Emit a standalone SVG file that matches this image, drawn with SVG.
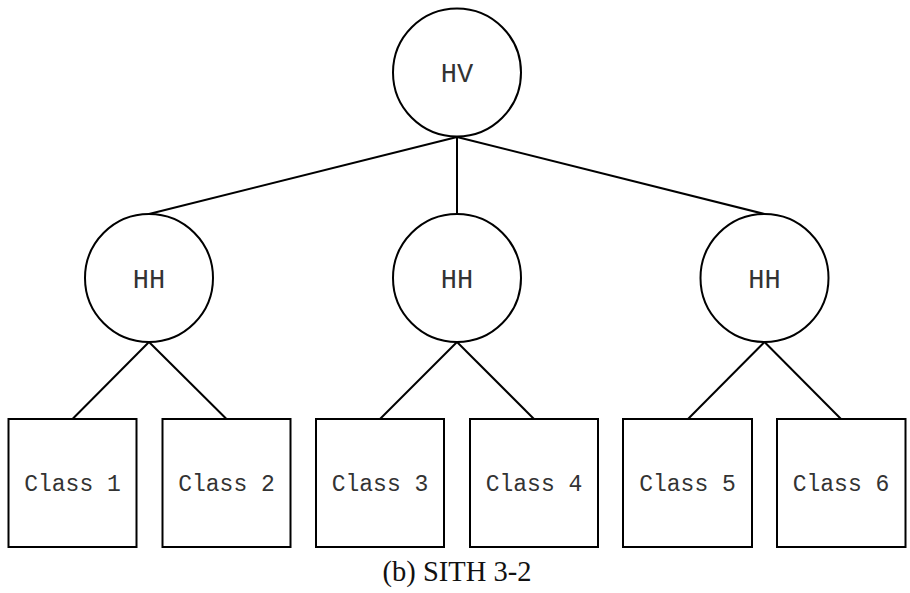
<svg xmlns="http://www.w3.org/2000/svg" width="910" height="593" viewBox="0 0 910 593">
<style>
.n{fill:#fff;stroke:#000;stroke-width:2}
.e{stroke:#000;stroke-width:2;fill:none}
.t{font-family:"Liberation Mono","Courier New",monospace;fill:#333;text-anchor:middle}
.c{font-size:23px}
.h{font-size:27px}
.cap{font-family:"Liberation Serif","Times New Roman",serif;font-size:28.5px;fill:#111;text-anchor:middle}
</style>
<rect width="910" height="593" fill="#fff"/>
<g id="edges">
<line class="e" x1="457" y1="137" x2="149" y2="214"/>
<line class="e" x1="457" y1="137" x2="457" y2="214"/>
<line class="e" x1="457" y1="137" x2="764.5" y2="214"/>
<line class="e" x1="149" y1="342" x2="72.5" y2="419"/>
<line class="e" x1="149" y1="342" x2="226.5" y2="419"/>
<line class="e" x1="457" y1="342" x2="380" y2="419"/>
<line class="e" x1="457" y1="342" x2="534" y2="419"/>
<line class="e" x1="764.5" y1="342" x2="688" y2="419"/>
<line class="e" x1="764.5" y1="342" x2="841" y2="419"/>
</g>
<g id="hv"><circle class="n" cx="457" cy="72.5" r="64"/><text class="t h" x="457" y="82">HV</text></g>
<g id="hh1"><circle class="n" cx="149" cy="278" r="64"/><text class="t h" x="149" y="288">HH</text></g>
<g id="hh2"><circle class="n" cx="457" cy="278" r="64"/><text class="t h" x="457" y="288">HH</text></g>
<g id="hh3"><circle class="n" cx="764.5" cy="278" r="64"/><text class="t h" x="764.5" y="288">HH</text></g>
<g id="c1"><rect class="n" x="8.5" y="419" width="128" height="128"/><text class="t c" x="72.5" y="491">Class 1</text></g>
<g id="c2"><rect class="n" x="162.5" y="419" width="128" height="128"/><text class="t c" x="226.5" y="491">Class 2</text></g>
<g id="c3"><rect class="n" x="316" y="419" width="128" height="128"/><text class="t c" x="380" y="491">Class 3</text></g>
<g id="c4"><rect class="n" x="470" y="419" width="128" height="128"/><text class="t c" x="534" y="491">Class 4</text></g>
<g id="c5"><rect class="n" x="623" y="419" width="129" height="128"/><text class="t c" x="687.5" y="491">Class 5</text></g>
<g id="c6"><rect class="n" x="777" y="419" width="128.5" height="128"/><text class="t c" x="841" y="491">Class 6</text></g>
<text class="cap" x="457" y="581">(b) SITH 3-2</text>
</svg>
